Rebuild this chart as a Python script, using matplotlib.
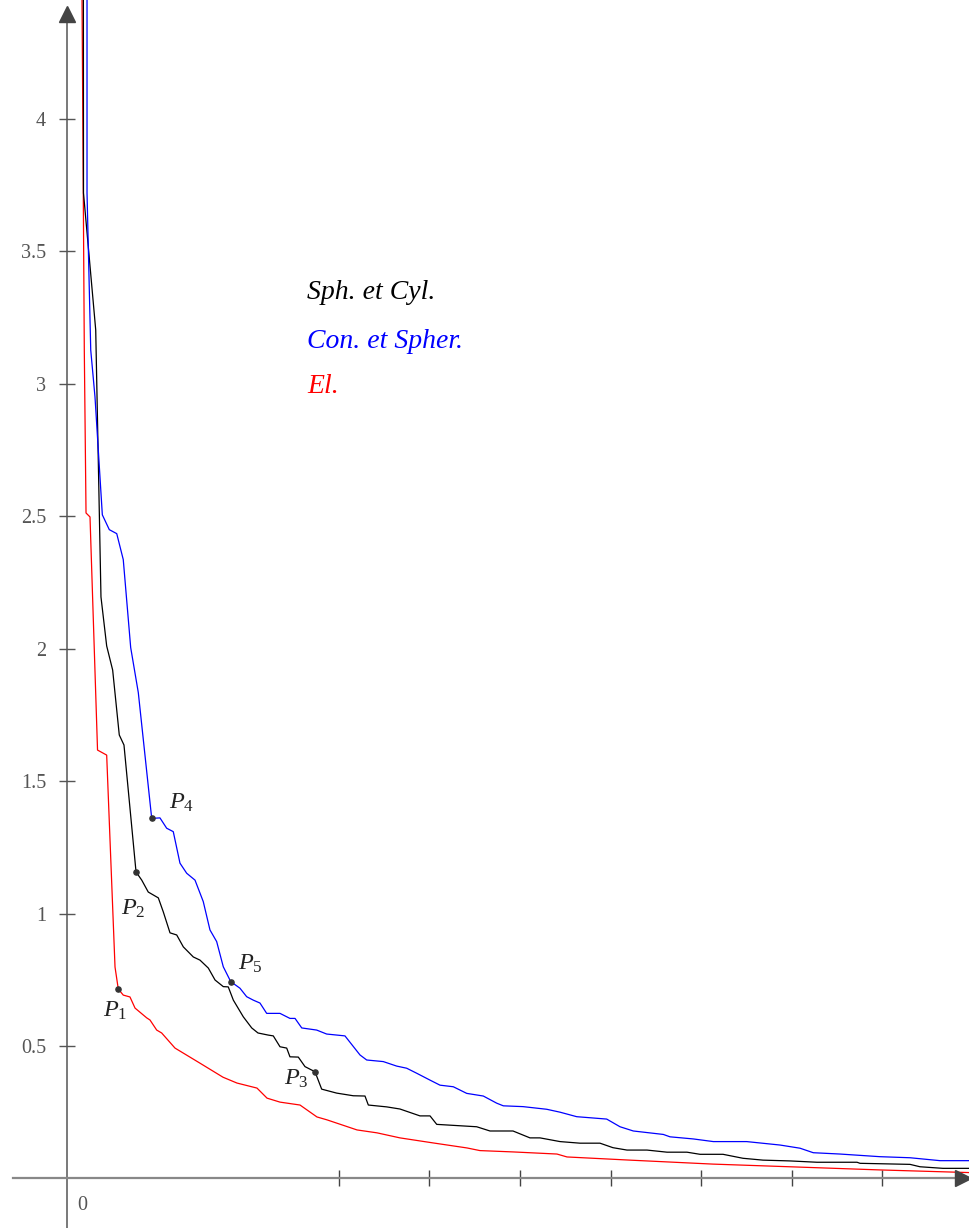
import matplotlib.pyplot as plt

plt.rcParams["mathtext.fontset"] = "custom"
plt.rcParams["mathtext.rm"] = "Liberation Serif"
plt.rcParams["mathtext.it"] = "Liberation Serif:italic"

# curves (data units)
el_x = [0.16, 0.166, 0.191, 0.210, 0.254, 0.337, 0.438, 0.530, 0.566, 0.621, 0.695,
        0.751, 0.880, 0.916, 0.990, 1.045, 1.192, 1.468, 1.722, 1.876, 2.097, 2.208,
        2.351, 2.572, 2.759, 2.870, 3.201, 3.422, 3.675, 4.040, 4.415, 4.558, 4.923,
        5.408, 5.519, 6.214, 7.130, 8.057, 8.974, 9.96]
el_y = [5.0, 4.45, 3.127, 2.512, 2.497, 1.617, 1.598, 0.798, 0.715, 0.692, 0.685,
        0.643, 0.606, 0.598, 0.560, 0.549, 0.492, 0.435, 0.382, 0.360, 0.341, 0.303,
        0.288, 0.277, 0.232, 0.221, 0.183, 0.172, 0.153, 0.134, 0.115, 0.105, 0.100,
        0.092, 0.081, 0.069, 0.054, 0.043, 0.032, 0.022]

sc_x = [0.18, 0.182, 0.317, 0.375, 0.438, 0.504, 0.577, 0.629, 0.762, 0.825, 0.897,
        1.008, 1.063, 1.137, 1.211, 1.284, 1.394, 1.468, 1.560, 1.634, 1.725, 1.780,
        1.836, 1.946, 2.039, 2.108, 2.222, 2.277, 2.351, 2.425, 2.461, 2.553, 2.627,
        2.701, 2.737, 2.811, 2.977, 3.160, 3.289, 3.326, 3.529, 3.675, 3.896, 4.007,
        4.081, 4.522, 4.669, 4.923, 5.110, 5.221, 5.442, 5.662, 5.883, 6.026, 6.181,
        6.402, 6.623, 6.843, 6.987, 7.241, 7.461, 7.682, 7.980, 8.278, 8.720, 8.753,
        9.305, 9.415, 9.669, 9.96]
sc_y = [5.0, 3.720, 3.203, 2.195, 2.010, 1.919, 1.674, 1.636, 1.157, 1.126, 1.081,
        1.059, 1.006, 0.927, 0.919, 0.874, 0.836, 0.824, 0.794, 0.749, 0.724, 0.723,
        0.673, 0.610, 0.568, 0.549, 0.541, 0.538, 0.497, 0.492, 0.459, 0.458, 0.422,
        0.409, 0.403, 0.337, 0.322, 0.312, 0.311, 0.277, 0.270, 0.262, 0.236, 0.236,
        0.204, 0.195, 0.179, 0.179, 0.153, 0.153, 0.139, 0.133, 0.133, 0.116, 0.107,
        0.107, 0.099, 0.099, 0.091, 0.091, 0.076, 0.069, 0.066, 0.061, 0.061, 0.057,
        0.053, 0.044, 0.038, 0.038]

cs_x = [0.221, 0.221, 0.262, 0.309, 0.390, 0.467, 0.549, 0.621, 0.703, 0.787, 0.935,
        1.026, 1.100, 1.173, 1.247, 1.321, 1.413, 1.504, 1.578, 1.652, 1.725, 1.807,
        1.909, 1.983, 2.056, 2.130, 2.204, 2.351, 2.461, 2.517, 2.591, 2.756, 2.866,
        3.068, 3.234, 3.308, 3.491, 3.639, 3.749, 3.860, 4.007, 4.117, 4.264, 4.412,
        4.595, 4.743, 4.816, 5.033, 5.295, 5.442, 5.626, 5.957, 6.104, 6.251, 6.582,
        6.656, 6.913, 7.134, 7.502, 7.870, 8.091, 8.237, 8.532, 8.974, 9.305, 9.636,
        9.96]
cs_y = [5.0, 3.720, 3.127, 2.950, 2.505, 2.449, 2.434, 2.336, 2.004, 1.834, 1.359,
        1.361, 1.322, 1.309, 1.190, 1.152, 1.126, 1.045, 0.938, 0.894, 0.799, 0.743,
        0.718, 0.686, 0.673, 0.662, 0.623, 0.623, 0.604, 0.604, 0.568, 0.560, 0.545,
        0.538, 0.466, 0.447, 0.441, 0.424, 0.416, 0.397, 0.371, 0.352, 0.346, 0.321,
        0.311, 0.284, 0.274, 0.271, 0.261, 0.250, 0.233, 0.224, 0.195, 0.179, 0.166,
        0.157, 0.149, 0.139, 0.139, 0.126, 0.114, 0.097, 0.092, 0.082, 0.078, 0.067,
        0.067]

# marked points and their labels
pt_names = ["$P_1$", "$P_2$", "$P_3$", "$P_4$", "$P_5$"]
pt_x = [0.566, 0.762, 2.737, 0.935, 1.807]
pt_y = [0.715, 1.157, 0.403, 1.359, 0.743]
lab_x = [0.530, 0.728, 2.528, 1.269, 2.020]
lab_y = [0.636, 1.021, 0.379, 1.421, 0.813]

yticks = [0.5, 1, 1.5, 2, 2.5, 3, 3.5, 4]
ytick_labels = ["0.5", "1", "1.5", "2", "2.5", "3", "3.5", "4"]
xticks = [3, 4, 5, 6, 7, 8, 9]

legend_names = ["Sph. et Cyl.", "Con. et Spher.", "El."]
legend_colors = ["#000000", "#0000ff", "#ff0000"]
legend_y = [3.346, 3.161, 2.991]

fig = plt.figure(figsize=(9.69, 12.28), dpi=100)
ax = fig.add_axes([0, 0, 1, 1])
xmin, xmax = -0.7395, 9.956
ymin, ymax = -0.1872, 4.4485
ax.set_xlim(xmin, xmax)
ax.set_ylim(ymin, ymax)

for s in ["top", "right"]:
    ax.spines[s].set_visible(False)
ax.spines["left"].set_position(("data", 0))
ax.spines["bottom"].set_position(("data", 0))
ax.spines["left"].set_color("#555555")
ax.spines["bottom"].set_color("#888888")
ax.spines["left"].set_linewidth(1.1)
ax.spines["bottom"].set_linewidth(1.6)
ax.spines["bottom"].set_bounds(-0.6, xmax)
ax.spines["left"].set_bounds(ymin, 4.40)

ax.set_yticks(yticks)
ax.set_yticklabels(ytick_labels)
ax.set_xticks(xticks)
ax.set_xticklabels([])
ax.tick_params(axis="y", direction="inout", length=12, width=1.0, color="#555555",
               labelcolor="#555555", labelsize=14.5, pad=9)
ax.tick_params(axis="x", direction="inout", length=12, width=1.0, color="#444444")
for lab in ax.get_yticklabels():
    lab.set_fontfamily("Liberation Serif")

# arrow heads
ax.plot([0], [4.396], marker="^", ms=11, color="#444444", clip_on=False, zorder=5)
ax.plot([9.89], [0], marker=">", ms=11, color="#444444", clip_on=False, zorder=5)
ax.text(0.166, -0.101, "0", color="#555555", fontsize=14.5, family="Liberation Serif",
        ha="center", va="center")

ax.plot(el_x, el_y, color="#ff0000", lw=0.9)
ax.plot(sc_x, sc_y, color="#000000", lw=0.9)
ax.plot(cs_x, cs_y, color="#0000ff", lw=0.9)

ax.scatter(pt_x, pt_y, s=14, color="#333333", zorder=6)
for name, x, y in zip(pt_names, lab_x, lab_y):
    ax.text(x, y, name, fontsize=17.5, color="#222222", ha="center", va="center")

for name, col, y in zip(legend_names, legend_colors, legend_y):
    ax.text(2.649, y, name, color=col, fontsize=20, family="Liberation Serif",
            style="italic", ha="left", va="center")

fig.savefig("out.png", dpi=100)
